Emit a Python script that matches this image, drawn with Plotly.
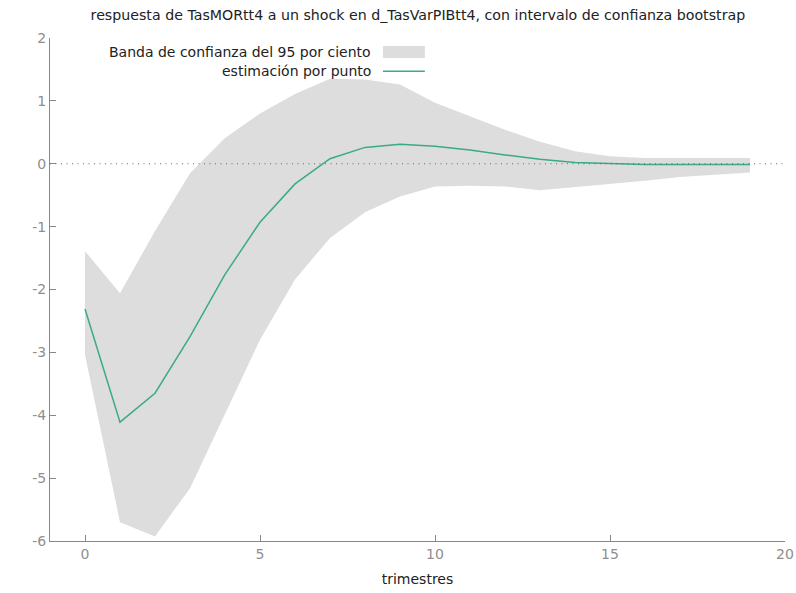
import plotly.graph_objects as go

periods = list(range(20))
estimate = [-2.31, -4.11, -3.65, -2.75, -1.76, -0.93, -0.32, 0.08, 0.26, 0.31,
            0.28, 0.22, 0.14, 0.07, 0.02, 0.00, -0.01, -0.01, -0.01, -0.01]
upper = [-1.39, -2.06, -1.07, -0.15, 0.41, 0.80, 1.11, 1.35, 1.34, 1.26,
         0.97, 0.75, 0.54, 0.35, 0.20, 0.12, 0.09, 0.09, 0.09, 0.09]
lower = [-3.04, -5.70, -5.93, -5.16, -3.98, -2.80, -1.84, -1.18, -0.77, -0.52,
         -0.36, -0.35, -0.36, -0.42, -0.37, -0.32, -0.27, -0.21, -0.17, -0.14]

title = "respuesta de TasMORtt4 a un shock en d_TasVarPIBtt4, con intervalo de confianza bootstrap"
band_label = "Banda de confianza del 95 por ciento"
line_label = "estimación por punto"
x_title = "trimestres"
x_ticks = [0, 5, 10, 15, 20]
x_ticklabels = ["0", "5", "10", "15", "20"]
y_ticks = [-6, -5, -4, -3, -2, -1, 0, 1, 2]
y_ticklabels = ["-6", "-5", "-4", "-3", "-2", "-1", "0", "1", "2"]

band_color = "#dddddd"
line_color = "#3aab85"
axis_color = "#888888"
tick_text_color = "#8f8f8f"
text_color = "#222222"
font = "DejaVu Sans"
fs = 14

fig = go.Figure()
fig.add_trace(go.Scatter(
    x=periods + periods[::-1], y=upper + lower[::-1],
    fill="toself", fillcolor=band_color, line=dict(width=0),
    mode="lines", hoverinfo="skip", showlegend=False, name=band_label))
fig.add_trace(go.Scatter(
    x=periods, y=estimate, mode="lines",
    line=dict(color=line_color, width=1.5), showlegend=False, name=line_label))

# zero reference line
fig.add_hline(y=0, line=dict(color="#666666", width=1, dash="1px,4.5px"))

fig.update_layout(
    width=796, height=593,
    margin=dict(l=50, r=11, t=38, b=52, autoexpand=False),
    paper_bgcolor="white", plot_bgcolor="white",
    font=dict(family=font, size=fs, color=text_color),
    title=dict(text=title, x=0.525, xanchor="center", y=0.975, yanchor="middle",
               font=dict(family=font, size=14.2, color=text_color)),
    showlegend=False,
)
fig.update_xaxes(range=[-1, 20], tickvals=x_ticks, ticktext=x_ticklabels,
                 ticks="inside", ticklen=6, automargin=False,
                 tickcolor=axis_color, showline=True, linecolor=axis_color,
                 linewidth=1, showgrid=False, zeroline=False,
                 tickfont=dict(color=tick_text_color, size=fs, family=font),
                 title=dict(text=x_title, font=dict(size=fs, color=text_color, family=font),
                            standoff=13))
fig.update_yaxes(range=[-6, 2], tickvals=y_ticks, ticktext=y_ticklabels,
                 ticks="inside", ticklen=6, automargin=False,
                 tickcolor=axis_color, showline=True, linecolor=axis_color,
                 linewidth=1, showgrid=False, zeroline=False,
                 tickfont=dict(color=tick_text_color, size=fs, family=font))

# legend (text left of swatch like gnuplot)
legend_rows = [(band_label, "band", 0.972), (line_label, "line", 0.934)]
for label, kind, yp in legend_rows:
    fig.add_annotation(text=label, xref="paper", yref="paper", x=0.440, y=yp,
                       xanchor="right", yanchor="middle", showarrow=False,
                       font=dict(family=font, size=fs, color=text_color))
    if kind == "band":
        fig.add_shape(type="rect", xref="paper", yref="paper",
                      x0=0.453, x1=0.510, y0=yp - 0.012, y1=yp + 0.012,
                      fillcolor=band_color, line=dict(width=0))
    else:
        fig.add_shape(type="line", xref="paper", yref="paper",
                      x0=0.453, x1=0.510, y0=yp, y1=yp,
                      line=dict(color=line_color, width=1.5))

fig.write_html("out.html", config={"displayModeBar": False},
               post_script="document.body.style.margin='0';document.body.style.overflow='hidden';")
